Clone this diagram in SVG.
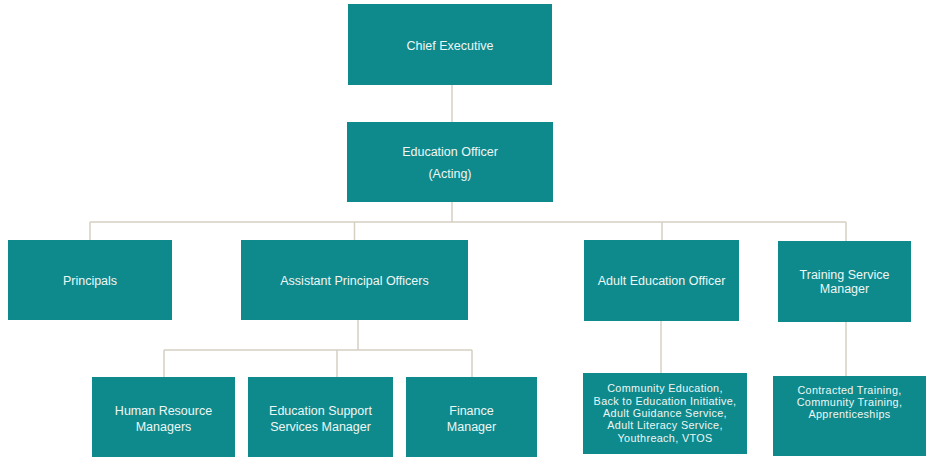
<svg xmlns="http://www.w3.org/2000/svg" width="927" height="457" viewBox="0 0 927 457">
<style>
.box{fill:#0e8a8c}
.t{font-family:"Liberation Sans",Arial,sans-serif;font-size:12.5px;fill:#eef6f6;text-anchor:middle}
.s{font-size:10.8px;letter-spacing:0.35px}
.c{fill:none;stroke:#d6d0c2;stroke-width:1.5}
</style>
<rect width="927" height="457" fill="#ffffff"/>
<g id="connectors">
<path class="c" d="M452 85V122"/>
<path class="c" d="M452 202V222M90 222H846M90 222V240M354.5 222V240M662 222V240M846 222V241"/>
<path class="c" d="M358 320V350M164 350H472M164 350V377M337 350V377M472 350V377"/>
<path class="c" d="M661 321V373"/>
<path class="c" d="M846 322V376"/>
</g>
<g id="chief-executive"><rect class="box" x="348" y="4" width="204" height="81"/><text class="t" x="450" y="49.5">Chief Executive</text></g>
<g id="education-officer"><rect class="box" x="347" y="122" width="206" height="80"/><text class="t" x="450" y="155.5">Education Officer</text><text class="t" x="450" y="177.5">(Acting)</text></g>
<g id="principals"><rect class="box" x="8" y="240" width="164" height="80"/><text class="t" x="90" y="284.5">Principals</text></g>
<g id="assistant-principal-officers"><rect class="box" x="241" y="240" width="227" height="80"/><text class="t" x="354.5" y="284.5">Assistant Principal Officers</text></g>
<g id="adult-education-officer"><rect class="box" x="584" y="240" width="155" height="81"/><text class="t" x="661.5" y="284.5">Adult Education Officer</text></g>
<g id="training-service-manager"><rect class="box" x="778" y="241" width="133" height="81"/><text class="t" x="844.5" y="278.5">Training Service</text><text class="t" x="844.5" y="292.5">Manager</text></g>
<g id="human-resource-managers"><rect class="box" x="92" y="377" width="143" height="80"/><text class="t" x="163.5" y="414.5">Human Resource</text><text class="t" x="163.5" y="430.5">Managers</text></g>
<g id="education-support-services-manager"><rect class="box" x="248" y="377" width="145" height="80"/><text class="t" x="320.5" y="414.5">Education Support</text><text class="t" x="320.5" y="430.5">Services Manager</text></g>
<g id="finance-manager"><rect class="box" x="406" y="377" width="131" height="80"/><text class="t" x="471.5" y="414.5">Finance</text><text class="t" x="471.5" y="430.5">Manager</text></g>
<g id="adult-education-services"><rect class="box" x="583" y="373" width="164" height="81"/>
<text class="t s" x="665" y="392.1">Community Education,</text>
<text class="t s" x="665" y="404.5">Back to Education Initiative,</text>
<text class="t s" x="665" y="416.9">Adult Guidance Service,</text>
<text class="t s" x="665" y="429.3">Adult Literacy Service,</text>
<text class="t s" x="665" y="441.7">Youthreach, VTOS</text></g>
<g id="training-services"><rect class="box" x="773" y="376" width="153" height="80"/>
<text class="t s" x="849.5" y="393.5">Contracted Training,</text>
<text class="t s" x="849.5" y="405.9">Community Training,</text>
<text class="t s" x="849.5" y="418.3">Apprenticeships</text></g>
</svg>
